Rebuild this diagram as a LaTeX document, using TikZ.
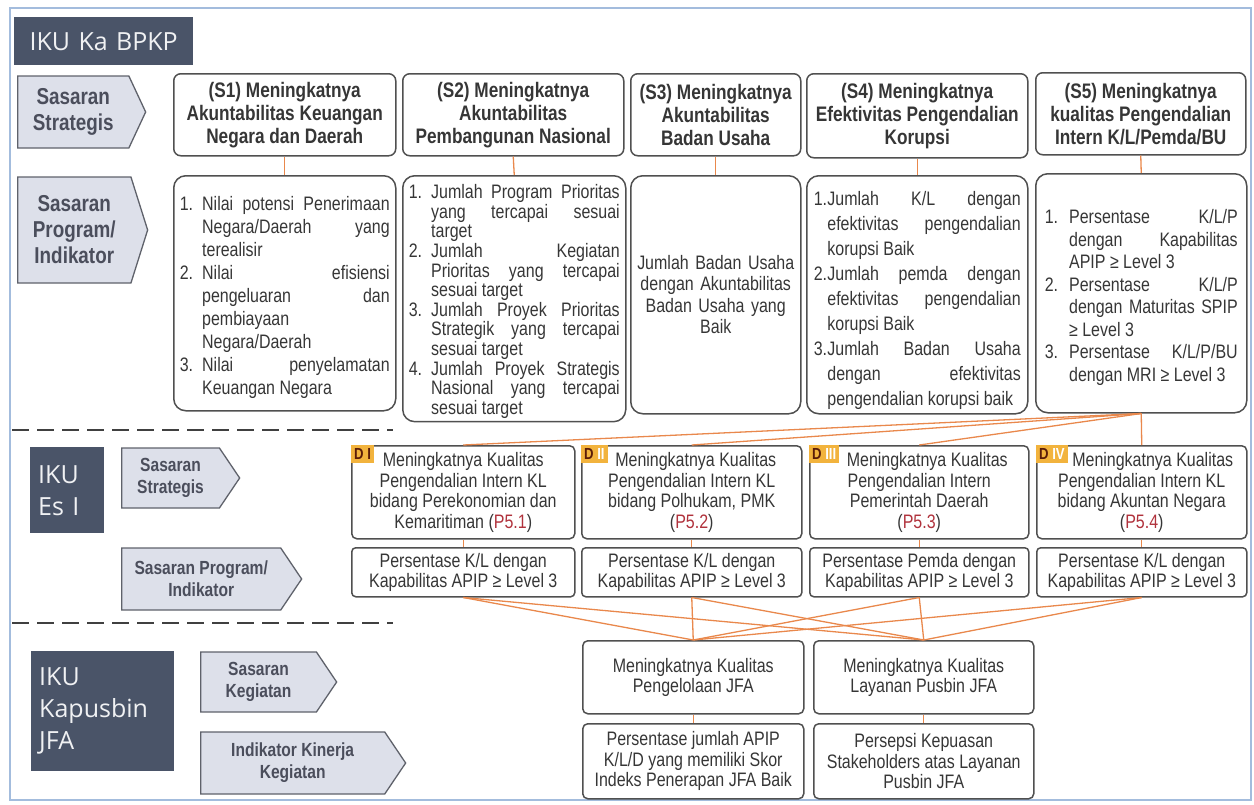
\documentclass[tikz,border=0pt]{standalone}
\usepackage{fontspec}
\setmainfont{Liberation Sans}[FakeStretch=0.82]
\newfontfamily\ikufont{Open Sans}
\usetikzlibrary{shapes.symbols}
\definecolor{frameblue}{HTML}{A3BCDD}
\definecolor{darkslate}{HTML}{4A5468}
\definecolor{lblfill}{HTML}{DDE0EA}
\definecolor{lblline}{HTML}{5F626B}
\definecolor{lbltext}{HTML}{4B4E5C}
\definecolor{boxline}{HTML}{505050}
\definecolor{boxtext}{HTML}{363636}
\definecolor{linkorange}{HTML}{E9884C}
\definecolor{tagfill}{HTML}{F2B33D}
\definecolor{tagtext}{HTML}{5A1C08}
\definecolor{pred}{HTML}{B0323C}
\tolerance=9999 \hbadness=10000 \hyphenpenalty=10000
\newcommand{\fntHead}{\bfseries\fontsize{21}{23}\selectfont}
\newcommand{\fntBody}{\fontsize{19.5}{20.5}\selectfont}
\newcommand{\fntTag}{\bfseries\fontsize{16}{16}\selectfont}
\newcommand{\fntLblA}{\bfseries\fontsize{23}{26}\selectfont}
\newcommand{\fntLblB}{\bfseries\fontsize{19}{22}\selectfont}
\newcommand{\li}[2][1.15em]{\par\hangindent=#1\hangafter=1\noindent\makebox[#1][l]{#2}\ignorespaces}
\begin{document}
\begin{tikzpicture}[x=1pt,y=-1pt,
      link/.style={draw=linkorange,line width=1.3pt},
      dashline/.style={draw=black!75,line width=2.5pt,dash pattern=on 17pt off 8pt},
      tagd/.style={fill=tagfill,anchor=north west,inner xsep=3pt,inner ysep=1pt,font=\fntTag,
        text=tagtext,minimum height=18pt}]
      \tikzstyle{every node}=[text=boxtext]
      \tikzstyle{ikubox}=[fill=darkslate,anchor=north west,font=\ikufont\fontsize{25}{32}\selectfont,
      text=white!92!darkslate,align=left,inner xsep=8pt]
      \tikzstyle{lbl}=[signal,signal to=east,draw=lblline,fill=lblfill,anchor=west,
      line width=1.3pt,text=lbltext,align=center]
      \tikzstyle{sbox}=[draw=boxline,line width=1.5pt,rounded corners=7pt,anchor=north west,
      align=center,font=\fntHead]
      \tikzstyle{ibox}=[draw=boxline,line width=1.5pt,rounded corners=12pt,anchor=north west,
      align=justify,inner xsep=6pt]
      \tikzstyle{dbox}=[draw=boxline,line width=1.5pt,rounded corners=5pt,anchor=north west,
      align=center,font=\fntBody,inner sep=3pt]
      \useasboundingbox (0,0) rectangle (1254,804);
      \draw[frameblue,line width=1.5pt] (10,8) rectangle (1251,800);
      %L0
      \node[ikubox,align=center,minimum width=179pt,minimum height=48pt,text width=163pt] (H1)
      at (14,17) {IKU Ka BPKP};
      \node[lbl,font=\fntLblA,signal pointer angle=130,minimum width=128pt,minimum height=72pt]
      (L1) at (17,112) {Sasaran\\Strategis};
      \node[lbl,font=\fntLblA,signal pointer angle=145,minimum width=130pt,minimum height=106pt]
      (L2) at (17,230) {Sasaran\\Program/\\Indikator};
      \node[sbox,minimum width=222pt,minimum height=82pt] (S1) at (173,73)
      {(S1) Meningkatnya\\Akuntabilitas Keuangan\\Negara dan Daerah};
      \node[sbox,minimum width=221pt,minimum height=82pt] (S2) at (402,73)
      {(S2) Meningkatnya\\Akuntabilitas\\Pembangunan Nasional};
      \node[sbox,minimum width=170pt,minimum height=82pt] (S3) at (630,73)
      {(S3) Meningkatnya\\Akuntabilitas\\Badan Usaha};
      \node[sbox,minimum width=221pt,minimum height=84pt] (S4) at (806,73)
      {(S4) Meningkatnya\\Efektivitas Pengendalian\\Korupsi};
      \node[sbox,minimum width=210pt,minimum height=82pt] (S5) at (1035,72)
      {(S5) Meningkatnya\\kualitas Pengendalian\\Intern K/L/Pemda/BU};
      \node[ibox,font={\fontsize{19.5}{23}\selectfont},minimum width=222pt,minimum height=235pt,
      text width=210pt] (I1) at (173,175)
      {\li{1.}Nilai potensi Penerimaan\linebreak Negara/Daerah yang\linebreak terealisir
       \li{2.}Nilai efisiensi\linebreak pengeluaran dan\linebreak pembiayaan\linebreak Negara/Daerah
       \li{3.}Nilai penyelamatan\linebreak Keuangan Negara\par};
      \node[ibox,font={\fontsize{19.5}{19.6}\selectfont},minimum width=223pt,minimum height=235pt,
      text width=211pt] (I2) at (402,175)
      {\li{1.}Jumlah Program Prioritas\linebreak yang tercapai sesuai\linebreak target
       \li{2.}Jumlah Kegiatan\linebreak Prioritas yang tercapai\linebreak sesuai target
       \li{3.}Jumlah Proyek Prioritas\linebreak Strategik yang tercapai\linebreak sesuai target
       \li{4.}Jumlah Proyek Strategis\linebreak Nasional yang tercapai\linebreak sesuai target\par};
      \node[ibox,align=center,font={\fontsize{19.5}{21.5}\selectfont},minimum width=170pt,
      minimum height=238pt,text width=160pt,inner xsep=5pt] (I3) at (630,175)
      {Jumlah Badan Usaha\\dengan Akuntabilitas\\Badan Usaha yang\\Baik};
      \node[ibox,font={\fontsize{19.5}{25}\selectfont},minimum width=221pt,minimum height=238pt,
      text width=207pt,inner xsep=7pt] (I4) at (806,175)
      {\li[0.7em]{1.}Jumlah K/L dengan\linebreak efektivitas pengendalian\linebreak korupsi Baik
       \li[0.7em]{2.}Jumlah pemda dengan\linebreak efektivitas pengendalian\linebreak korupsi Baik
       \li[0.7em]{3.}Jumlah Badan Usaha\linebreak dengan efektivitas\linebreak pengendalian korupsi baik\par};
      \node[ibox,font={\fontsize{19.5}{22.5}\selectfont},minimum width=211pt,minimum height=239pt,
      text width=193pt,inner xsep=9pt] (I5) at (1035,173)
      {\li[1.25em]{1.}Persentase K/L/P\linebreak dengan Kapabilitas\linebreak APIP ≥ Level 3
       \li[1.25em]{2.}Persentase K/L/P\linebreak dengan Maturitas SPIP\linebreak ≥ Level 3
       \li[1.25em]{3.}Persentase K/L/P/BU\linebreak dengan MRI ≥ Level 3\par};
      \draw[link] (S1.south) -- (I1.north); \draw[link] (S2.south) -- (I2.north);
      \draw[link] (S3.south) -- (I3.north); \draw[link] (S4.south) -- (I4.north);
      \draw[link] (S5.south) -- (I5.north);
      \draw[dashline] (12,430) -- (393,430);
      %L1
      \node[ikubox,minimum width=74pt,minimum height=86pt,text width=58pt] (E1) at (30,447)
      {IKU\\Es I};
      \node[lbl,font=\fntLblB,signal pointer angle=112,minimum width=118pt,minimum height=60pt]
      (L3) at (121,478) {Sasaran\\Strategis};
      \node[lbl,font=\fntLblB,signal pointer angle=112,minimum width=180pt,minimum height=62pt]
      (L4) at (121,579) {Sasaran Program/\\Indikator};
      \node[dbox,minimum width=223pt,minimum height=93pt] (D1) at (351,445)
      {Meningkatnya Kualitas\\Pengendalian Intern KL\\bidang Perekonomian dan\\
       Kemaritiman (\textcolor{pred}{P5.1})};
      \node[dbox,minimum width=220pt,minimum height=93pt] (D2) at (581,445)
      {\hspace*{8pt}Meningkatnya Kualitas\\Pengendalian Intern KL\\bidang Polhukam, PMK\\
       (\textcolor{pred}{P5.2})};
      \node[dbox,minimum width=219pt,minimum height=93pt] (D3) at (809,445)
      {\hspace*{16pt}Meningkatnya Kualitas\\Pengendalian Intern\\Pemerintah Daerah\\
       (\textcolor{pred}{P5.3})};
      \node[dbox,minimum width=210pt,minimum height=93pt] (D4) at (1036,445)
      {\hspace*{22pt}Meningkatnya Kualitas\\Pengendalian Intern KL\\bidang Akuntan Negara\\
       (\textcolor{pred}{P5.4})};
      \node[tagd] (T1) at (D1.north west) {D I};
      \node[tagd] (T2) at (D2.north west) {D \textcolor{white}{II}};
      \node[tagd] (T3) at (D3.north west) {D \textcolor{white}{III}};
      \node[tagd] (T4) at (D4.north west) {D \textcolor{white}{IV}};
      \node[dbox,rounded corners=4pt,minimum width=223pt,minimum height=49pt] (P1) at (351,547)
      {Persentase K/L dengan\\Kapabilitas APIP ≥ Level 3};
      \node[dbox,rounded corners=4pt,minimum width=220pt,minimum height=49pt] (P2) at (581,547)
      {Persentase K/L dengan\\Kapabilitas APIP ≥ Level 3};
      \node[dbox,rounded corners=4pt,minimum width=219pt,minimum height=49pt] (P3) at (809,547)
      {Persentase Pemda dengan\\Kapabilitas APIP ≥ Level 3};
      \node[dbox,rounded corners=4pt,minimum width=210pt,minimum height=49pt] (P4) at (1036,547)
      {Persentase K/L dengan\\Kapabilitas APIP ≥ Level 3};
      \draw[link] (I5.south) -- (D1.north); \draw[link] (I5.south) -- (D2.north);
      \draw[link] (I5.south) -- (D3.north); \draw[link] (I5.south) -- (D4.north);
      \draw[link] (D1.south) -- (P1.north); \draw[link] (D2.south) -- (P2.north);
      \draw[link] (D3.south) -- (P3.north); \draw[link] (D4.south) -- (P4.north);
      \draw[dashline] (12,623) -- (393,623);
      %L2
      \node[ikubox,minimum width=143pt,minimum height=120pt,text width=127pt] (K1) at (31,651)
      {IKU\\Kapusbin\\JFA};
      \node[lbl,font=\fntLblB,signal pointer angle=112,minimum width=136pt,minimum height=60pt]
      (L5) at (200,682) {Sasaran\\Kegiatan};
      \node[lbl,font=\fntLblB,signal pointer angle=112,minimum width=205pt,minimum height=62pt]
      (L6) at (200,763) {Indikator Kinerja\\Kegiatan};
      \node[dbox,minimum width=221pt,minimum height=73pt] (J1) at (582,640)
      {Meningkatnya Kualitas\\Pengelolaan JFA};
      \node[dbox,minimum width=220pt,minimum height=73pt] (J2) at (813,640)
      {Meningkatnya Kualitas\\Layanan Pusbin JFA};
      \node[dbox,minimum width=221pt,minimum height=75pt] (Q1) at (582,723)
      {Persentase jumlah APIP\\K/L/D yang memiliki Skor\\Indeks Penerapan JFA Baik};
      \node[dbox,minimum width=220pt,minimum height=75pt] (Q2) at (813,723)
      {Persepsi Kepuasan\\Stakeholders atas Layanan\\Pusbin JFA};
      \draw[link] (P1.south) -- (J1.north); \draw[link] (P1.south) -- (J2.north);
      \draw[link] (P2.south) -- (J1.north); \draw[link] (P2.south) -- (J2.north);
      \draw[link] (P3.south) -- (J1.north); \draw[link] (P3.south) -- (J2.north);
      \draw[link] (P4.south) -- (J1.north); \draw[link] (P4.south) -- (J2.north);
      \draw[link] (J1.south) -- (Q1.north); \draw[link] (J2.south) -- (Q2.north);
    \end{tikzpicture}
\end{document}
